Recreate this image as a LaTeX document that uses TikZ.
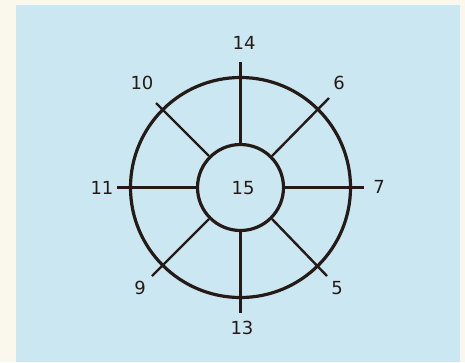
\documentclass[tikz,border=0pt]{standalone}
\usepackage{fontspec}
\setmainfont{DejaVu Sans}
\definecolor{paper}{RGB}{250,248,236}
\definecolor{panel}{RGB}{202,231,242}
\definecolor{ink}{RGB}{38,26,22}
\begin{document}
\begin{tikzpicture}[x=1pt,y=-1pt,
  lbl/.style={font=\fontsize{18}{18}\selectfont, text=ink, inner sep=0pt},
  ring/.style={draw=ink, line width=3.2pt, circle, inner sep=0pt},
  axis/.style={draw=ink, line width=2.7pt},
  diag/.style={draw=ink, line width=2.4pt}]
\useasboundingbox (0,0) rectangle (465,362);
\fill[paper] (0,0) rectangle (465,362);
\fill[panel] (16,5) rectangle (460,362);
% circles
\node[ring, minimum size=220pt] (outer) at (240.5,187.5) {};
\node[ring, minimum size=86pt, lbl] (inner) at (240.5,187.5) {};
\node[lbl] (l15) at (243,188) {15};
% spoke ends
\coordinate (e14) at (240.5,62);
\coordinate (e13) at (240.5,313);
\coordinate (e11) at (117,187.5);
\coordinate (e7) at (364,187.5);
\coordinate (e10) at (156,103);
\coordinate (e6) at (329,98);
\coordinate (e9) at (152,276);
\coordinate (e5) at (327,276);
% spokes
\draw[axis] (inner.90) -- (e14);
\draw[axis] (inner.270) -- (e13);
\draw[axis] (inner.180) -- (e11);
\draw[axis] (inner.0) -- (e7);
\draw[diag] (inner.135) -- (e10);
\draw[diag] (inner.45) -- (e6);
\draw[diag] (inner.225) -- (e9);
\draw[diag] (inner.315) -- (e5);
% labels
\node[lbl] (l14) at (244,43) {14};
\node[lbl] (l13) at (242,328) {13};
\node[lbl] (l11) at (102,188) {11};
\node[lbl] (l7) at (379,187) {7};
\node[lbl] (l10) at (142,83) {10};
\node[lbl] (l6) at (339,83) {6};
\node[lbl] (l9) at (140,288) {9};
\node[lbl] (l5) at (337,288) {5};
\end{tikzpicture}
\end{document}
